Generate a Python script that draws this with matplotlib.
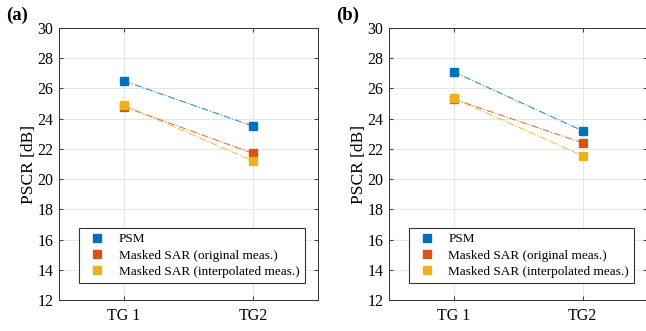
import matplotlib.pyplot as plt

plt.rcParams['font.family'] = ['Liberation Serif', 'DejaVu Serif']

groups = ['TG 1', 'TG2']
series_names = ['PSM', 'Masked SAR (original meas.)', 'Masked SAR (interpolated meas.)']
colors = ['#0072BD', '#D95319', '#EDB120']

# panel (a)
psm_a = [26.5, 23.5]
orig_a = [24.8, 21.7]
interp_a = [24.9, 21.2]
# panel (b)
psm_b = [27.1, 23.2]
orig_b = [25.3, 22.4]
interp_b = [25.35, 21.55]

panels = [('(a)', [psm_a, orig_a, interp_a]), ('(b)', [psm_b, orig_b, interp_b])]
axes_pos = [[59/646, 31/331, 259/646, 272/331], [389/646, 31/331, 258/646, 272/331]]
label_x = [6/646, 336/646]

fig = plt.figure(figsize=(6.46, 3.31), dpi=100)
x = [1, 2]
for i, (tag, data) in enumerate(panels):
    ax = fig.add_axes(axes_pos[i])
    for vals, name, c in zip(data, series_names, colors):
        ax.plot(x, vals, '-.', color=c, lw=0.8, alpha=0.8)
        ax.plot(x, vals, 's', color=c, ms=6, label=name, linestyle='none')
    ax.set_xlim(0.5, 2.5)
    ax.set_ylim(12, 30)
    ax.set_yticks(range(12, 31, 2))
    ax.set_xticks(x)
    ax.set_xticklabels(groups)
    ax.grid(True, color='#e6e6e6', lw=0.7)
    ax.set_axisbelow(True)
    ax.tick_params(direction='in', right=True, top=True, labelsize=11.5, length=3,
                   color='#444444', pad=4)
    ax.tick_params(axis='x', pad=6)
    for s in ax.spines.values():
        s.set_color('#333333')
        s.set_linewidth(0.7)
    ax.set_ylabel('PSCR [dB]', fontsize=12.5, labelpad=0)
    handles, labels = ax.get_legend_handles_labels()
    leg = ax.legend(handles[:3], labels[:3], loc='lower left', bbox_to_anchor=(0.077, 0.062),
                    borderaxespad=0, fontsize=9.5, fancybox=False, edgecolor='#333333',
                    framealpha=1, borderpad=0.4, labelspacing=0.3, handletextpad=0.6,
                    handlelength=2, markerscale=0.9)
    leg.get_frame().set_linewidth(0.8)
    fig.text(label_x[i], 0.94, tag, fontsize=13.5, fontweight='bold')

fig.savefig('out.png', dpi=100)
